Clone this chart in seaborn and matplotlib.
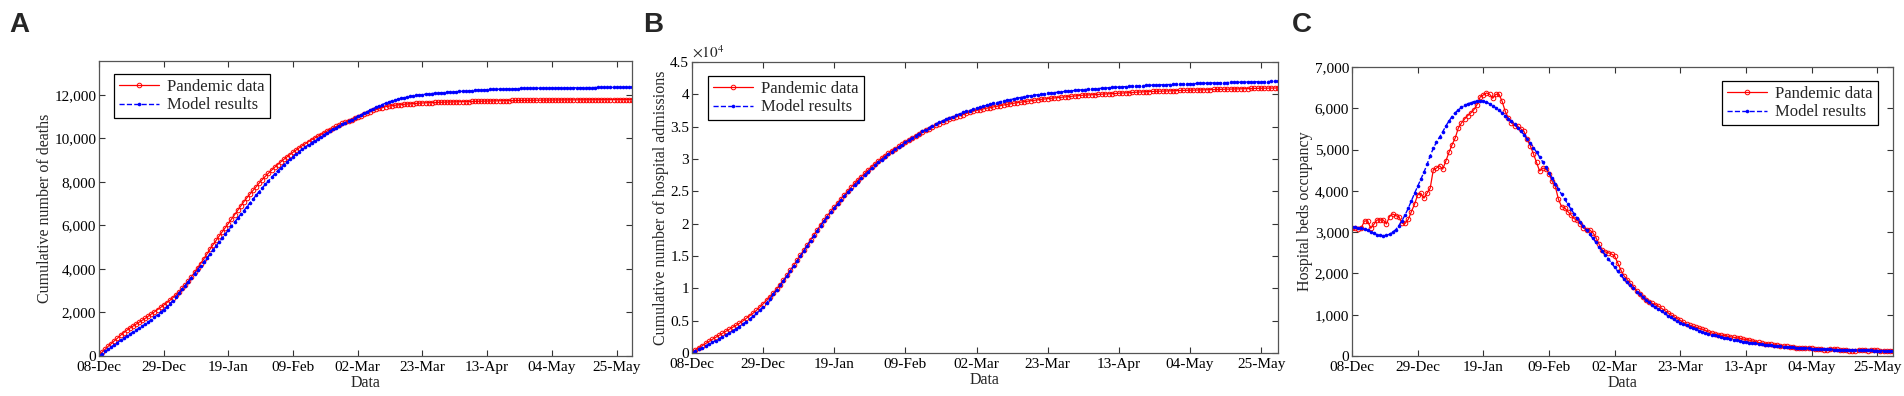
import matplotlib
matplotlib.use('Agg')
from matplotlib import pyplot as plt
from matplotlib.ticker import FuncFormatter
import seaborn as sns

# tick every 21 days starting 08-Dec
DATE_TICKS=[0,21,42,63,84,105,126,147,168]
DATE_LABELS=['08-Dec','29-Dec','19-Jan','09-Feb','02-Mar','23-Mar','13-Apr','04-May','25-May']

# A: cumulative deaths (daily)
deaths_data=[
    50,180,310,450,570,700,820,950,1070,1180,
    1280,1370,1460,1550,1640,1730,1830,1930,2030,2130,
    2230,2340,2450,2560,2680,2810,2950,3110,3270,3450,
    3640,3840,4040,4250,4460,4680,4900,5110,5310,5510,
    5710,5900,6090,6290,6490,6690,6890,7090,7270,7440,
    7610,7780,7950,8110,8260,8400,8540,8670,8800,8920,
    9040,9150,9260,9370,9470,9570,9670,9760,9850,9940,
    10020,10100,10180,10260,10340,10410,10480,10550,10620,10690,
    10750,10810,10870,10930,10990,11050,11110,11170,11230,11290,
    11340,11380,11420,11460,11490,11510,11530,11545,11560,11570,
    11585,11595,11605,11615,11625,11635,11640,11645,11650,11655,
    11660,11665,11670,11675,11680,11682,11684,11686,11690,11694,
    11698,11702,11706,11710,11714,11718,11722,11725,11728,11731,
    11734,11737,11740,11743,11745,11747,11749,11751,11753,11755,
    11757,11759,11761,11763,11765,11766,11767,11768,11769,11770,
    11772,11774,11775,11776,11777,11778,11779,11780,11781,11782,
    11783,11784,11785,11786,11786,11787,11787,11788,11788,11789,
    11789,11790,11790,11790]
deaths_model=[
    0,105,210,320,420,520,620,720,820,915,
    1005,1095,1185,1275,1365,1460,1560,1670,1780,1900,
    2010,2130,2260,2400,2550,2710,2880,3060,3240,3420,
    3600,3780,3960,4140,4320,4510,4690,4870,5060,5240,
    5420,5610,5790,5970,6150,6330,6510,6680,6860,7040,
    7210,7390,7560,7730,7890,8050,8210,8360,8510,8660,
    8790,8920,9040,9170,9290,9400,9510,9610,9710,9810,
    9900,9990,10080,10170,10260,10340,10420,10500,10580,10660,
    10730,10800,10870,10940,11010,11080,11150,11220,11300,11370,
    11440,11500,11560,11620,11670,11720,11760,11800,11840,11870,
    11900,11930,11955,11980,12000,12020,12035,12050,12065,12080,
    12090,12100,12110,12120,12130,12140,12150,12160,12170,12180,
    12190,12200,12210,12220,12230,12240,12245,12250,12255,12260,
    12265,12270,12275,12280,12285,12290,12293,12296,12300,12302,
    12304,12306,12308,12310,12312,12314,12316,12318,12320,12322,
    12324,12326,12328,12330,12332,12334,12336,12337,12338,12339,
    12340,12341,12342,12343,12344,12345,12346,12347,12348,12349,
    12350,12352,12354,12355]

# B: cumulative hospital admissions (daily)
admissions_data=[
    150,480,810,1140,1470,1800,2110,2420,2730,3040,
    3350,3660,3970,4280,4590,4950,5340,5740,6140,6580,
    7080,7600,8150,8700,9260,9900,10570,11280,12000,12760,
    13540,14330,15120,15920,16720,17510,18300,19070,19830,20550,
    21250,21920,22560,23200,23830,24450,25060,25650,26230,26760,
    27280,27790,28290,28780,29250,29700,30130,30530,30900,31260,
    31610,31950,32280,32600,32920,33230,33540,33840,34130,34420,
    34700,34960,35210,35450,35690,35910,36120,36320,36510,36700,
    36880,37050,37220,37380,37530,37650,37760,37860,37950,38050,
    38150,38250,38350,38450,38540,38630,38710,38790,38870,38940,
    39010,39080,39150,39220,39280,39340,39400,39450,39500,39550,
    39600,39650,39700,39750,39800,39850,39880,39910,39940,39970,
    40000,40030,40060,40090,40120,40150,40180,40210,40240,40270,
    40300,40330,40360,40390,40410,40430,40450,40470,40490,40510,
    40530,40550,40570,40590,40600,40615,40630,40645,40660,40675,
    40690,40705,40720,40735,40750,40765,40780,40795,40810,40825,
    40840,40855,40870,40885,40900,40910,40920,40930,40940,40950,
    40960,40970,40980,40990]
admissions_model=[
    0,270,550,820,1100,1380,1650,1920,2190,2460,
    2760,3070,3400,3740,4080,4460,4850,5250,5660,6110,
    6620,7160,7740,8380,9050,9740,10440,11150,11870,12620,
    13400,14190,14990,15790,16590,17380,18160,18930,19680,20400,
    21100,21770,22420,23040,23650,24250,24840,25420,25980,26520,
    27040,27550,28050,28540,29010,29460,29900,30330,30750,31130,
    31500,31870,32230,32580,32930,33270,33600,33930,34260,34560,
    34850,35130,35400,35660,35900,36130,36350,36560,36760,36990,
    37200,37350,37500,37670,37840,38000,38150,38300,38450,38590,
    38720,38850,38970,39080,39190,39300,39410,39510,39610,39710,
    39800,39870,39940,40010,40080,40150,40210,40270,40330,40390,
    40450,40500,40550,40600,40650,40700,40740,40780,40820,40860,
    40900,40940,40980,41020,41060,41100,41130,41160,41190,41220,
    41250,41280,41310,41340,41370,41400,41420,41440,41460,41480,
    41500,41520,41540,41560,41580,41600,41620,41640,41660,41680,
    41700,41716,41732,41748,41764,41780,41794,41808,41822,41836,
    41850,41864,41878,41892,41906,41920,41931,41942,41953,41964,
    41975,41986,42000,42010]

# C: hospital beds occupancy (daily)
beds_data=[
    3093,3093,3069,3109,3271,3271,3093,3190,3295,3295,
    3295,3198,3376,3441,3400,3376,3214,3214,3311,3498,
    3676,3903,3943,3822,3943,4065,4510,4551,4607,4526,
    4720,4931,5117,5279,5522,5644,5741,5822,5887,5968,
    6089,6275,6324,6372,6340,6243,6340,6340,6170,5927,
    5765,5644,5579,5563,5500,5441,5250,5093,4900,4690,
    4480,4550,4540,4420,4230,4110,3800,3620,3590,3500,
    3420,3330,3290,3200,3100,3055,3053,2990,2870,2710,
    2570,2520,2500,2470,2420,2250,2080,1940,1850,1760,
    1680,1580,1490,1420,1360,1310,1275,1243,1205,1155,
    1100,1050,995,950,905,860,815,770,745,720,
    695,673,650,620,582,559,534,515,505,495,
    480,465,455,440,430,410,398,385,365,350,
    330,310,300,293,280,270,258,248,240,232,
    222,215,205,195,187,195,203,190,180,172,
    163,155,148,160,175,165,150,142,135,130,
    130,130,138,146,140,130,138,146,140,130,
    128,130,132,130]
beds_model=[
    3120,3115,3105,3090,3070,3040,3005,2970,2940,2920,
    2915,2920,2950,3000,3060,3160,3280,3420,3580,3760,
    3940,4110,4280,4450,4640,4850,5030,5180,5300,5430,
    5570,5690,5800,5890,5960,6020,6070,6105,6140,6160,
    6175,6180,6175,6150,6110,6060,6010,5950,5890,5820,
    5750,5680,5610,5530,5450,5360,5260,5160,5050,4940,
    4820,4700,4570,4440,4300,4170,4040,3920,3800,3680,
    3560,3450,3340,3240,3140,3040,2950,2850,2750,2650,
    2550,2450,2350,2250,2150,2050,1960,1870,1790,1710,
    1635,1560,1490,1420,1360,1300,1240,1180,1130,1080,
    1030,980,935,890,850,810,775,740,705,675,
    645,615,590,565,540,520,500,480,460,440,
    425,410,395,380,365,350,338,326,314,303,
    292,282,272,263,255,247,240,233,226,220,
    214,208,203,198,193,188,184,180,176,172,
    168,165,162,159,156,153,150,148,146,144,
    142,140,138,137,136,135,134,133,132,131,
    130,130,130,130]

sns.set_style('ticks')
plt.rcParams['font.family']=['Liberation Serif','DejaVu Serif']
plt.rcParams['mathtext.fontset']='stix'

fig=plt.figure(figsize=(19.04,3.96),dpi=100)

def draw_panel(rect,letter,letter_x,data,model,ylabel,ylim,ystep,yfmt,legend_loc,legend_anchor):
    ax=fig.add_axes(rect)
    sns.lineplot(x=list(range(len(data))),y=data,ax=ax,color='r',linewidth=0.9,
                 marker='o',markersize=3.3,markerfacecolor='none',markeredgecolor='r',
                 markeredgewidth=0.7,label='Pandemic data')
    sns.lineplot(x=list(range(len(model))),y=model,ax=ax,color='b',linewidth=1,linestyle='--',
                 marker='o',markersize=2.6,markerfacecolor='b',markeredgecolor='b',
                 markeredgewidth=0,label='Model results')
    ax.set_xlim(0,173)
    ax.set_ylim(*ylim)
    ax.set_xticks(DATE_TICKS)
    ax.set_xticklabels(DATE_LABELS)
    ax.set_yticks(list(range(0,int(ylim[1])+1,ystep)))
    ax.yaxis.set_major_formatter(FuncFormatter(yfmt))
    ax.tick_params(direction='in',top=True,right=True,length=4.5,width=0.8,
                   labelsize=11,color='#333333',labelcolor='black')
    ax.tick_params(axis='y',pad=2)
    for s in ax.spines.values():
        s.set_visible(True)
        s.set_color('#555555')
        s.set_linewidth(0.9)
    ax.set_xlabel('Data',fontsize=11.5,labelpad=1)
    ax.set_ylabel(ylabel,fontsize=11.5,labelpad=1)
    leg=ax.legend(loc=legend_loc,bbox_to_anchor=legend_anchor,fontsize=12,frameon=True,
                  fancybox=False,framealpha=1,edgecolor='black',handlelength=2.4,
                  borderpad=0.3,labelspacing=0.15,handletextpad=0.5,borderaxespad=0)
    leg.get_frame().set_linewidth(0.9)
    fig.text(letter_x,1-12/396,letter,fontsize=20,fontweight='bold',
             family='Liberation Sans',va='top',ha='left')
    return ax

comma=lambda v,p:f'{v:,.0f}'

draw_panel([99/1904,40/396,533/1904,295/396],'A',9/1904,deaths_data,deaths_model,
           'Cumulative number of deaths',(0,13560),2000,comma,'upper left',(0.028,0.956))

axb=draw_panel([692/1904,43/396,586/1904,291/396],'B',643/1904,admissions_data,admissions_model,
               'Cumulative number of hospital admissions',(0,45000),5000,
               lambda v,p:f'{v/1e4:g}','upper left',(0.027,0.952))
axb.text(0.0,1.005,r'$\times10^{4}$',transform=axb.transAxes,fontsize=11,va='bottom',ha='left')

draw_panel([1352/1904,40/396,541/1904,289/396],'C',1292/1904,beds_data,beds_model,
           'Hospital beds occupancy',(0,7000),1000,comma,'upper right',(0.972,0.952))

fig.savefig('out.png',dpi=100)
